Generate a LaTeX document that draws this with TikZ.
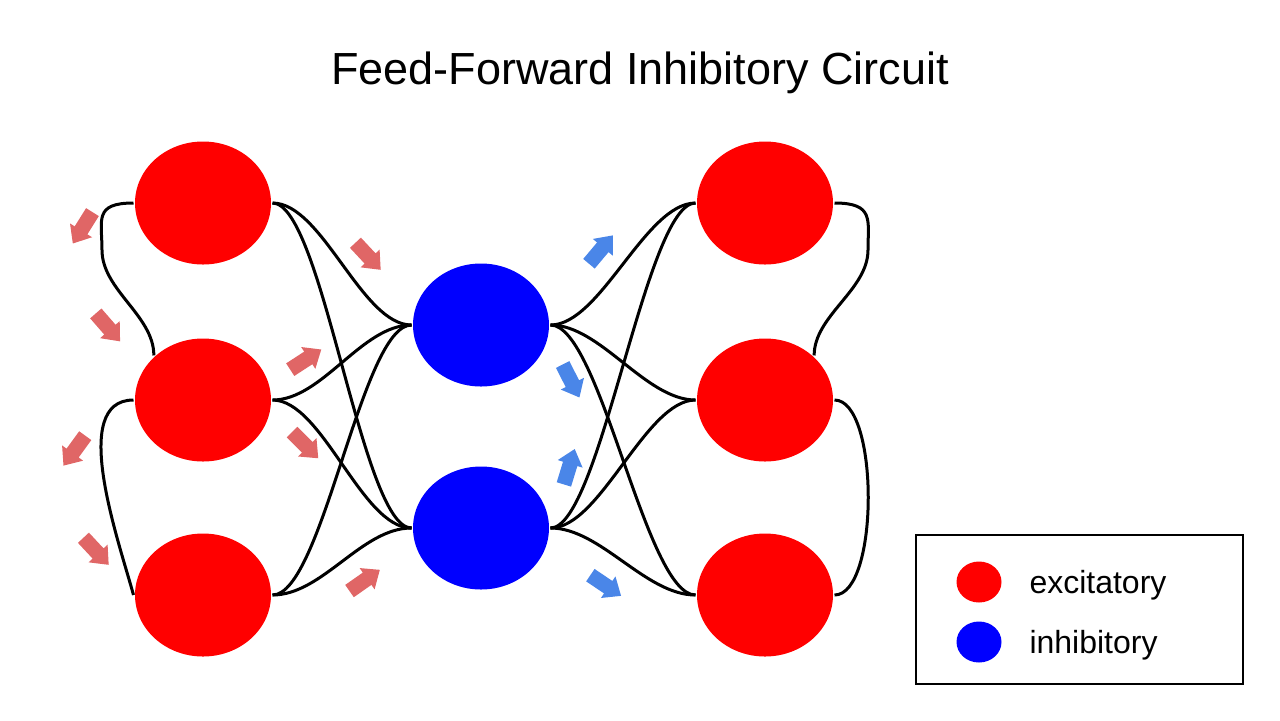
\documentclass[tikz,border=0pt]{standalone}
\usepackage{fontspec}
\setmainfont{Liberation Sans}
\usetikzlibrary{shapes.geometric,shapes.arrows}

\definecolor{excred}{RGB}{255,0,0}
\definecolor{inhblue}{RGB}{0,0,255}
\definecolor{exctip}{RGB}{224,102,102}
\definecolor{inhtip}{RGB}{74,134,232}

\tikzset{
  cell/.style={ellipse,inner sep=0pt,minimum width=68pt,minimum height=61.5pt},
  exc/.style={cell,fill=excred},
  inh/.style={cell,fill=inhblue},
  dot/.style={ellipse,inner sep=0pt,minimum width=22.5pt,minimum height=20.5pt},
  sig/.style={single arrow,inner xsep=0pt,inner ysep=3pt,minimum height=18.5pt,
    single arrow head extend=2.75pt,single arrow tip angle=80},
  wire/.style={to path={.. controls +(50,0) and +(-50,0) .. (\tikztotarget)}}
}

\begin{document}
\begin{tikzpicture}[x=0.5pt,y=-0.5pt,line width=1.5pt]
  \useasboundingbox (0,0) rectangle (1280,720);

  \node[anchor=base] (title) at (640,84) {\fontsize{22.5}{27}\selectfont Feed-Forward Inhibitory Circuit};

  \node[exc] (l1) at (203,203) {};
  \node[exc] (l2) at (203,400) {};
  \node[exc] (l3) at (203,595) {};
  \node[inh] (m1) at (481,325) {};
  \node[inh] (m2) at (481,528) {};
  \node[exc] (r1) at (765,203) {};
  \node[exc] (r2) at (765,400) {};
  \node[exc] (r3) at (765,595) {};

  \foreach \from/\to in {l1/m1,l1/m2,l2/m1,l2/m2,l3/m1,l3/m2,m1/r1,m1/r2,m1/r3,m2/r1,m2/r2,m2/r3}
    \draw (\from.east) to[wire] (\to.west);

  \draw (l1.west) .. controls +(-40,0) and +(0,-30) .. (102,250)
    .. controls +(0,40) and +(0,-40) .. (l2.north west);
  \draw (l2.west) .. controls +(-65,0) and +(-15,-55) .. (l3.west);
  \draw (r1.east) .. controls +(40,0) and +(0,-30) .. (868,250)
    .. controls +(0,40) and +(0,-40) .. (r2.north east);
  \draw (r2.east) .. controls +(45,0) and +(45,0) .. (r3.east);

  \foreach \n/\x/\y/\a/\c in {a1/85/224/238/exctip,a2/105/324/-49/exctip,a3/302/362/33/exctip,
      a4/302/442/-45/exctip,a5/77/447/234/exctip,a6/93/548/-47/exctip,a7/365/253/-47/exctip,
      a8/361/583/35/exctip,a9/598/253/50/inhtip,a10/569/377/-63/inhtip,a11/568/471/73/inhtip,
      a12/602/583/-34/inhtip}
    \node[sig,fill=\c,rotate=\a] (\n) at (\x,\y) {};

  % legend
  \node[draw,line width=1pt,minimum width=163.5pt,minimum height=74.5pt] (key) at (1079.5,609.5) {};
  \node[dot,fill=excred] (kexc) at (979,582) {};
  \node[dot,fill=inhblue] (kinh) at (979,642) {};
  \node[anchor=base west,inner sep=0pt] (texc) at (1028,593) {\fontsize{16}{19}\selectfont excitatory};
  \node[anchor=base west,inner sep=0pt] (tinh) at (1028,653) {\fontsize{16}{19}\selectfont inhibitory};
\end{tikzpicture}
\end{document}
